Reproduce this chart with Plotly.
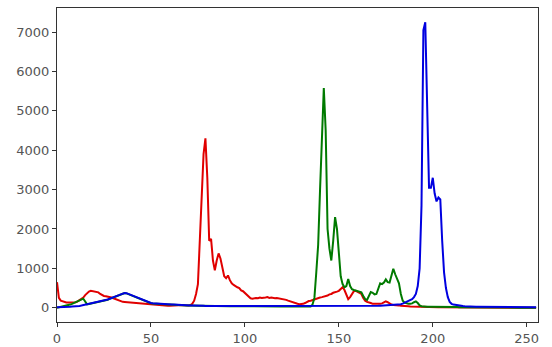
import plotly.graph_objects as go

bins = list(range(256))

red = [
 650, 250, 180, 160, 140, 135, 135, 135, 135, 135,
 140, 160, 190, 220, 260, 320, 370, 410, 430, 420,
 410, 400, 390, 350, 320, 300, 290, 285, 280, 260,
 240, 220, 190, 170, 160, 150, 145, 140, 135, 130,
 125, 120, 120, 115, 120, 115, 105, 95, 90, 80,
 75, 70, 70, 65, 60, 60, 55, 55, 50, 50,
 50, 55, 50, 55, 60, 70, 75, 70, 60, 55,
 55, 70, 100, 180, 350, 600, 1600, 2900, 3900, 4300,
 3300, 1700, 1750, 1200, 950, 1200, 1380, 1250, 1050, 800,
 750, 820, 700, 620, 580, 560, 520, 500, 440, 420,
 380, 320, 280, 240, 230, 240, 250, 240, 260, 250,
 250, 260, 270, 250, 260, 250, 240, 250, 240, 230,
 230, 220, 200, 180, 160, 150, 130, 110, 100, 90,
 90, 100, 120, 150, 170, 180, 200, 220, 240, 250,
 260, 270, 280, 300, 310, 340, 350, 380, 390, 410,
 430, 480, 520, 450, 350, 220, 270, 340, 420, 430,
 400, 390, 350, 250, 180, 150, 140, 120, 100, 100,
 90, 90, 100, 110, 130, 160, 140, 100, 80, 70,
 70, 60, 60, 50, 50, 50, 40, 40, 30, 30,
 20, 20, 18, 16, 15, 15, 14, 14, 13, 12,
 12, 12, 11, 11, 10, 10, 10, 10, 9, 9,
 9, 8, 8, 8, 8, 7, 7, 7, 7, 6,
 6, 6, 6, 5, 5, 5, 5, 5, 4, 4,
 4, 4, 3, 3, 3, 3, 3, 2, 2, 2,
 2, 2, 1, 1, 1, 1, 1, 1, 0, 0,
 0, 0, 0, 0, 0, 0,
]

green = [
 0, 10, 20, 30, 40, 50, 60, 80, 100, 120,
 140, 160, 190, 220, 230, 160, 85, 95, 105, 120,
 130, 135, 145, 155, 165, 185, 195, 205, 225, 240,
 255, 275, 295, 315, 335, 355, 372, 365, 345, 315,
 295, 285, 265, 245, 215, 195, 175, 155, 135, 125,
 115, 110, 105, 105, 100, 95, 95, 90, 90, 85,
 85, 80, 80, 75, 75, 70, 70, 65, 65, 60,
 60, 55, 55, 50, 50, 50, 48, 48, 46, 46,
 45, 45, 44, 44, 43, 43, 42, 42, 41, 41,
 40, 40, 40, 40, 39, 39, 38, 38, 38, 37,
 37, 37, 36, 36, 36, 35, 35, 35, 35, 34,
 34, 34, 34, 33, 33, 33, 33, 33, 32, 32,
 32, 32, 32, 32, 31, 31, 31, 31, 31, 31,
 30, 30, 30, 30, 30, 30, 80, 250, 900, 1600,
 3000, 4300, 5580, 4500, 2000, 1500, 1200, 1700, 2300, 2000,
 1300, 800, 600, 520, 550, 730, 550, 470, 450, 430,
 420, 400, 390, 300, 220, 200, 300, 400, 380, 340,
 350, 500, 620, 600, 640, 720, 650, 640, 850, 990,
 850, 720, 620, 350, 180, 130, 110, 100, 100, 110,
 140, 160, 120, 60, 40, 30, 30, 28, 28, 26,
 26, 25, 25, 24, 24, 23, 22, 22, 21, 20,
 19, 18, 17, 16, 15, 14, 13, 12, 12, 11,
 10, 10, 9, 9, 8, 8, 7, 7, 6, 6,
 6, 5, 5, 5, 4, 4, 4, 3, 3, 3,
 3, 2, 2, 2, 2, 1, 1, 1, 1, 1,
 0, 0, 0, 0, 0, 0,
]

blue = [
 10, 10, 15, 15, 20, 20, 25, 25, 30, 30,
 30, 35, 45, 55, 65, 75, 90, 100, 110, 125,
 135, 140, 150, 160, 170, 190, 200, 210, 230, 245,
 260, 280, 300, 320, 340, 360, 375, 370, 350, 320,
 300, 290, 270, 250, 220, 200, 180, 160, 140, 130,
 120, 115, 110, 110, 105, 100, 100, 95, 95, 90,
 90, 85, 85, 80, 80, 75, 75, 70, 70, 65,
 65, 60, 60, 55, 55, 50, 50, 48, 48, 46,
 46, 45, 45, 44, 44, 43, 43, 42, 42, 41,
 41, 40, 40, 40, 40, 39, 39, 38, 38, 38,
 37, 37, 37, 36, 36, 36, 35, 35, 35, 35,
 34, 34, 34, 34, 33, 33, 33, 33, 33, 32,
 32, 32, 32, 32, 32, 31, 31, 31, 31, 31,
 31, 30, 30, 30, 30, 30, 30, 30, 31, 31,
 32, 32, 33, 33, 34, 34, 35, 35, 36, 36,
 37, 37, 38, 38, 39, 39, 40, 40, 40, 41,
 41, 42, 42, 43, 43, 44, 44, 45, 45, 46,
 47, 48, 50, 52, 54, 56, 58, 60, 62, 65,
 68, 72, 80, 90, 105, 125, 145, 165, 190, 220,
 270, 350, 550, 1000, 2600, 7050, 7250, 4800, 3050, 3050,
 3300, 2900, 2700, 2800, 2750, 1700, 900, 500, 270, 150,
 100, 80, 70, 60, 55, 50, 45, 40, 35, 30,
 30, 28, 26, 25, 24, 23, 22, 21, 20, 20,
 19, 18, 18, 17, 16, 16, 15, 15, 14, 14,
 13, 13, 12, 12, 12, 11, 11, 11, 10, 10,
 10, 10, 10, 10, 10, 10,
]

channels = [("red", red, "#e00000"), ("green", green, "#007a00"), ("blue", blue, "#0000e0")]

fig = go.Figure()
for name, vals, col in channels:
    fig.add_trace(go.Scatter(x=bins, y=vals, mode="lines", name=name,
                             line=dict(color=col, width=2)))

axis_common = dict(showline=True, mirror=True, linecolor="#333", linewidth=1,
                   showgrid=False, zeroline=False, ticks="outside", ticklen=4,
                   automargin=False,
                   tickcolor="#333", tickfont=dict(family="DejaVu Sans", size=13, color="#555"))

fig.update_layout(
    template="none",
    width=552, height=347,
    margin=dict(l=57, r=14, t=8, b=25),
    paper_bgcolor="white", plot_bgcolor="white",
    showlegend=False,
    xaxis=dict(range=[0, 256], tickvals=[0, 50, 100, 150, 200, 250], **axis_common),
    yaxis=dict(range=[-362, 7612], tickvals=[0, 1000, 2000, 3000, 4000, 5000, 6000, 7000], **axis_common),
)

fig.write_html("out.html")
